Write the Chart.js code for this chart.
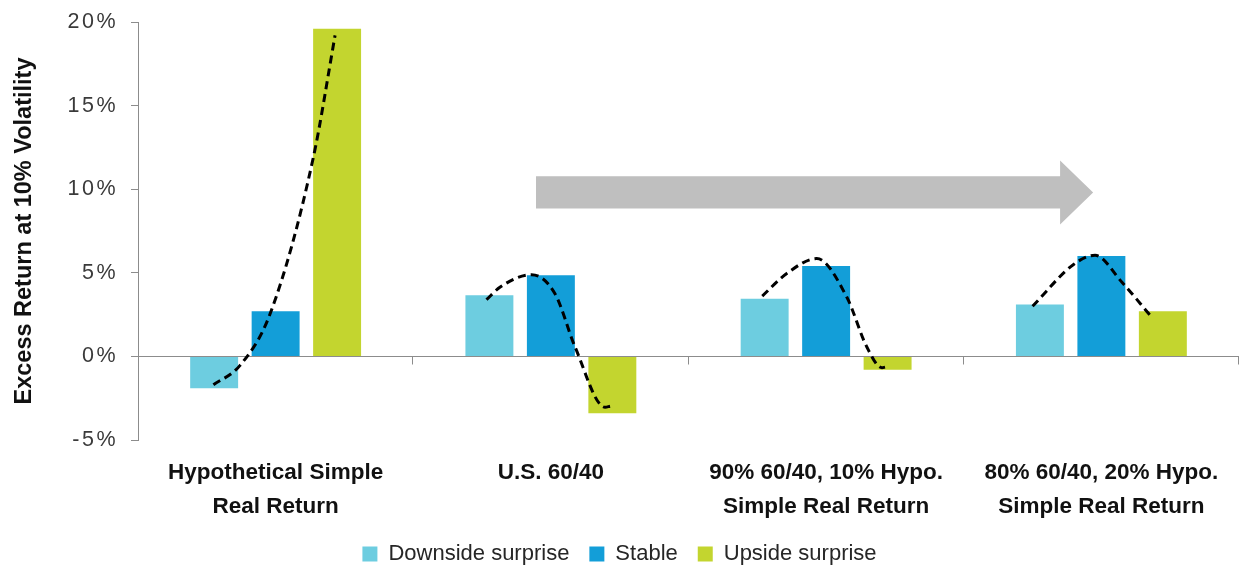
<!DOCTYPE html>
<html>
<head>
<meta charset="utf-8">
<script src="https://cdn.jsdelivr.net/npm/chart.js@4.4.1/dist/chart.umd.min.js"></script>
<style>
  html,body{margin:0;padding:0;background:#fff}
  #wrap{width:1243px;height:567px;position:relative}
</style>
</head>
<body>
<div id="wrap"><canvas id="chart"></canvas></div>
<script>
const categories=[['Hypothetical Simple','Real Return'],'U.S. 60/40',['90% 60/40, 10% Hypo.','Simple Real Return'],['80% 60/40, 20% Hypo.','Simple Real Return']];
const seriesNames=['Downside surprise','Stable','Upside surprise'];
const downside=[-1.9,3.65,3.45,3.1];
const stable=[2.7,4.85,5.4,6.0];
const upside=[19.6,-3.4,-0.8,2.7];
const yTicks=[-5,0,5,10,15,20];

// dashed trend curves, [x in category index units (group centre = index), y in %]
const curveA=[[-0.226,-1.7],[-0.13,-0.55],[-0.02,2.55],[0.137,11.9],[0.216,19.2]];
const curveB=[[0.766,3.39],[0.816,4.15],[0.93,4.89],[1.015,3.75],[1.088,0.56],[1.197,-3.04],[1.215,-2.98]];
const curveC=[[1.768,3.61],[1.857,4.96],[1.966,5.85],[2.075,3.55],[2.148,0.56],[2.203,-0.68],[2.214,-0.64]];
const curveD=[[2.75,3.0],[2.899,5.5],[2.977,6.05],[3.074,4.45],[3.177,2.46]];

const COL={down:'#6dcde0',stable:'#139ed8',up:'#c3d52f',arrow:'#bfbfbf',axis:'#8c8c8c',text:'#262626'};
const FONT='"Liberation Sans", Arial, sans-serif';

// big grey arrow, in category index units / %
const ARROW={x0:0.946,xHead:2.85,xTip:2.97,shaftTop:10.77,shaftBot:8.85,headTop:11.72,headBot:7.89,yTip:9.81};

const extras={
  id:'extras',
  afterLayout(chart){
    // legend row sits a little lower than Chart.js would put it
    const lg=chart.legend;
    if(lg){ lg.top+=8; lg.bottom+=8; }
    // let the second line of the category labels run past the axis box
    const sx=chart.scales.x;
    if(sx){ sx.bottom+=10; }
    // y tick labels are set a touch wider
    const s=chart.scales.y;
    if(s && !s._spaced){
      const orig=s.drawLabels.bind(s);
      s.drawLabels=(area)=>{ const c=chart.ctx; c.save(); c.letterSpacing='2.5px'; orig(area); c.restore(); };
      s._spaced=true;
    }
  },
  beforeDatasetsDraw(chart){
    const {ctx,scales:{x,y}}=chart;
    const X=v=>x.getPixelForValue(v), Y=v=>y.getPixelForValue(v);
    const a=ARROW;
    ctx.save();
    ctx.fillStyle=COL.arrow;
    ctx.beginPath();
    ctx.moveTo(X(a.x0),Y(a.shaftTop));
    ctx.lineTo(X(a.xHead),Y(a.shaftTop));
    ctx.lineTo(X(a.xHead),Y(a.headTop));
    ctx.lineTo(X(a.xTip),Y(a.yTip));
    ctx.lineTo(X(a.xHead),Y(a.headBot));
    ctx.lineTo(X(a.xHead),Y(a.shaftBot));
    ctx.lineTo(X(a.x0),Y(a.shaftBot));
    ctx.closePath();
    ctx.fill();
    // small ticks hanging off the zero line between groups
    ctx.strokeStyle=COL.axis; ctx.lineWidth=1;
    const y0=Math.round(Y(0))+0.5;
    for(let i=1;i<=categories.length;i++){
      const px=Math.round(X(i-0.5))-0.5;
      ctx.beginPath(); ctx.moveTo(px,y0); ctx.lineTo(px,y0+8); ctx.stroke();
    }
    ctx.restore();
  }
};

const curveSet=(pts)=>({
  type:'line',order:0,parsing:false,
  data:pts.map(p=>({x:p[0],y:p[1]})),
  borderColor:'#000',borderWidth:3,borderDash:[8,5],
  pointRadius:0,fill:false,cubicInterpolationMode:'monotone'
});
const barSet=(label,data,color)=>({
  label,data,backgroundColor:color,borderWidth:0,order:1,
  barPercentage:0.78,categoryPercentage:0.67
});

new Chart(document.getElementById('chart'),{
  type:'bar',
  data:{
    labels:categories,
    datasets:[
      barSet(seriesNames[0],downside,COL.down),
      barSet(seriesNames[1],stable,COL.stable),
      barSet(seriesNames[2],upside,COL.up),
      curveSet(curveA),curveSet(curveB),curveSet(curveC),curveSet(curveD)
    ]
  },
  options:{
    responsive:true,maintainAspectRatio:false,animation:false,
    layout:{padding:{top:22,right:4,left:0,bottom:0}},
    plugins:{
      tooltip:{enabled:false},
      legend:{
        position:'bottom',
        labels:{
          filter:it=>it.datasetIndex<3,
          boxWidth:15,boxHeight:15,padding:20,color:COL.text,
          font:{family:FONT,size:22}
        }
      }
    },
    scales:{
      x:{
        type:'category',
        afterFit:s=>{s.height=75;},
        grid:{display:false,drawTicks:false},
        border:{display:false},
        ticks:{color:'#111',padding:15.5,maxRotation:0,autoSkip:false,font:{family:FONT,size:22.5,weight:'bold',lineHeight:1.53}}
      },
      y:{
        min:yTicks[0],max:yTicks[yTicks.length-1],
        afterBuildTicks:s=>{s.ticks=yTicks.map(v=>({value:v}));},
        afterFit:s=>{s.width=138;},
        grid:{color:c=>c.tick&&c.tick.value===0?COL.axis:'transparent',tickColor:COL.axis,tickLength:7,lineWidth:1},
        border:{display:true,color:COL.axis},
        ticks:{color:'#3a3a3a',padding:13,font:{family:FONT,size:21.5,lineHeight:0.5},callback:v=>v+'%'},
        title:{display:true,text:'Excess Return at 10% Volatility',color:'#111',padding:{top:10,bottom:0},font:{family:FONT,size:23.5,weight:'bold'}}
      }
    }
  },
  plugins:[extras]
});
</script>
</body>
</html>
